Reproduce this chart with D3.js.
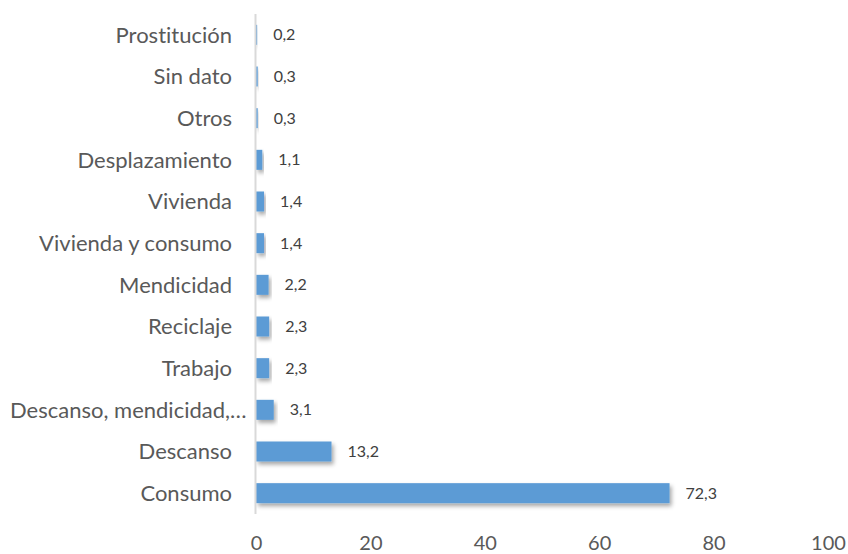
<!DOCTYPE html>
<html>
<head>
<meta charset="utf-8">
<script src="https://cdn.jsdelivr.net/npm/d3@7"></script>
<style>
  html, body { margin: 0; padding: 0; background: #fff; }
  #viz { width: 848px; height: 554px; }
  text {
    font-family: Lato, "Open Sans", sans-serif;
    font-variant-ligatures: none;
    font-feature-settings: "liga" 0, "clig" 0;
  }
</style>
</head>
<body>
<div id="viz"></div>
<script>
const categories = [
  'Prostitución', 'Sin dato', 'Otros', 'Desplazamiento', 'Vivienda',
  'Vivienda y consumo', 'Mendicidad', 'Reciclaje', 'Trabajo ',
  'Descanso, mendicidad,…', 'Descanso', 'Consumo'
];
const values = [0.2, 0.3, 0.3, 1.1, 1.4, 1.4, 2.2, 2.3, 2.3, 3.1, 13.2, 72.3];
const xTicks = [0, 20, 40, 60, 80, 100];

function drawViz() {
  const container = document.getElementById('viz');
  container.innerHTML = '';

  const width = 848;
  const height = 554;
  const margin = { top: 14, right: 20, bottom: 40, left: 256 };

  const svg = d3.select(container)
    .append('svg')
    .attr('width', width)
    .attr('height', height);

  const defs = svg.append('defs');
  const shadow = defs.append('filter')
    .attr('id', 'shadow')
    .attr('x', '-10%').attr('y', '-30%')
    .attr('width', '130%').attr('height', '180%');
  shadow.append('feDropShadow')
    .attr('dx', 2).attr('dy', 3)
    .attr('stdDeviation', 2)
    .attr('flood-color', '#000')
    .attr('flood-opacity', 0.35);

  const x = d3.scaleLinear()
    .domain([0, 100])
    .range([margin.left, 828]);

  const y = d3.scaleBand()
    .domain(categories)
    .range([margin.top, 514])
    .paddingInner(0.52)
    .paddingOuter(0.26);

  const rows = categories.map((c, i) => ({ cat: c, val: values[i] }));

  // bars
  svg.append('g')
    .selectAll('rect')
    .data(rows)
    .enter()
    .append('rect')
    .attr('x', x(0))
    .attr('y', d => y(d.cat))
    .attr('width', d => x(d.val) - x(0))
    .attr('height', y.bandwidth())
    .attr('fill', '#5B9BD5')
    .attr('filter', 'url(#shadow)');

  // vertical axis line
  svg.append('line')
    .attr('x1', x(0) - 0.5).attr('x2', x(0) - 0.5)
    .attr('y1', margin.top).attr('y2', 514)
    .attr('stroke', '#d9d9d9')
    .attr('stroke-width', 2);

  // category labels
  const catLabels = svg.append('g')
    .selectAll('text')
    .data(rows)
    .enter()
    .append('text')
    .attr('x', 232)
    .attr('y', d => y(d.cat) + y.bandwidth() / 2)
    .attr('dy', '0.35em')
    .attr('text-anchor', 'end')
    .attr('font-size', 22)
    .attr('fill', '#595959')
    .text(d => d.cat);

  // truncated labels that run past the left edge get pushed right, like Excel does
  catLabels.each(function() {
    const bb = this.getBBox();
    if (bb.x < 10) {
      d3.select(this).attr('x', 232 + (10 - bb.x));
    }
  });

  // value labels
  svg.append('g')
    .selectAll('text')
    .data(rows)
    .enter()
    .append('text')
    .attr('x', d => x(d.val) + 16)
    .attr('y', d => y(d.cat) + y.bandwidth() / 2)
    .attr('dy', '0.35em')
    .attr('font-size', 16)
    .attr('fill', '#404040')
    .text(d => d3.format('.1f')(d.val).replace('.', ','));

  // x axis tick labels
  const xAxis = d3.axisBottom(x).tickValues(xTicks).tickSize(0).tickPadding(0);
  const gx = svg.append('g')
    .attr('transform', 'translate(0, 532)')
    .call(xAxis);
  gx.select('.domain').remove();
  gx.selectAll('text')
    .attr('font-family', 'Lato, "Open Sans", sans-serif')
    .attr('font-size', 20)
    .attr('fill', '#595959')
    .attr('dy', '0.9em');
}

drawViz();
</script>
</body>
</html>
